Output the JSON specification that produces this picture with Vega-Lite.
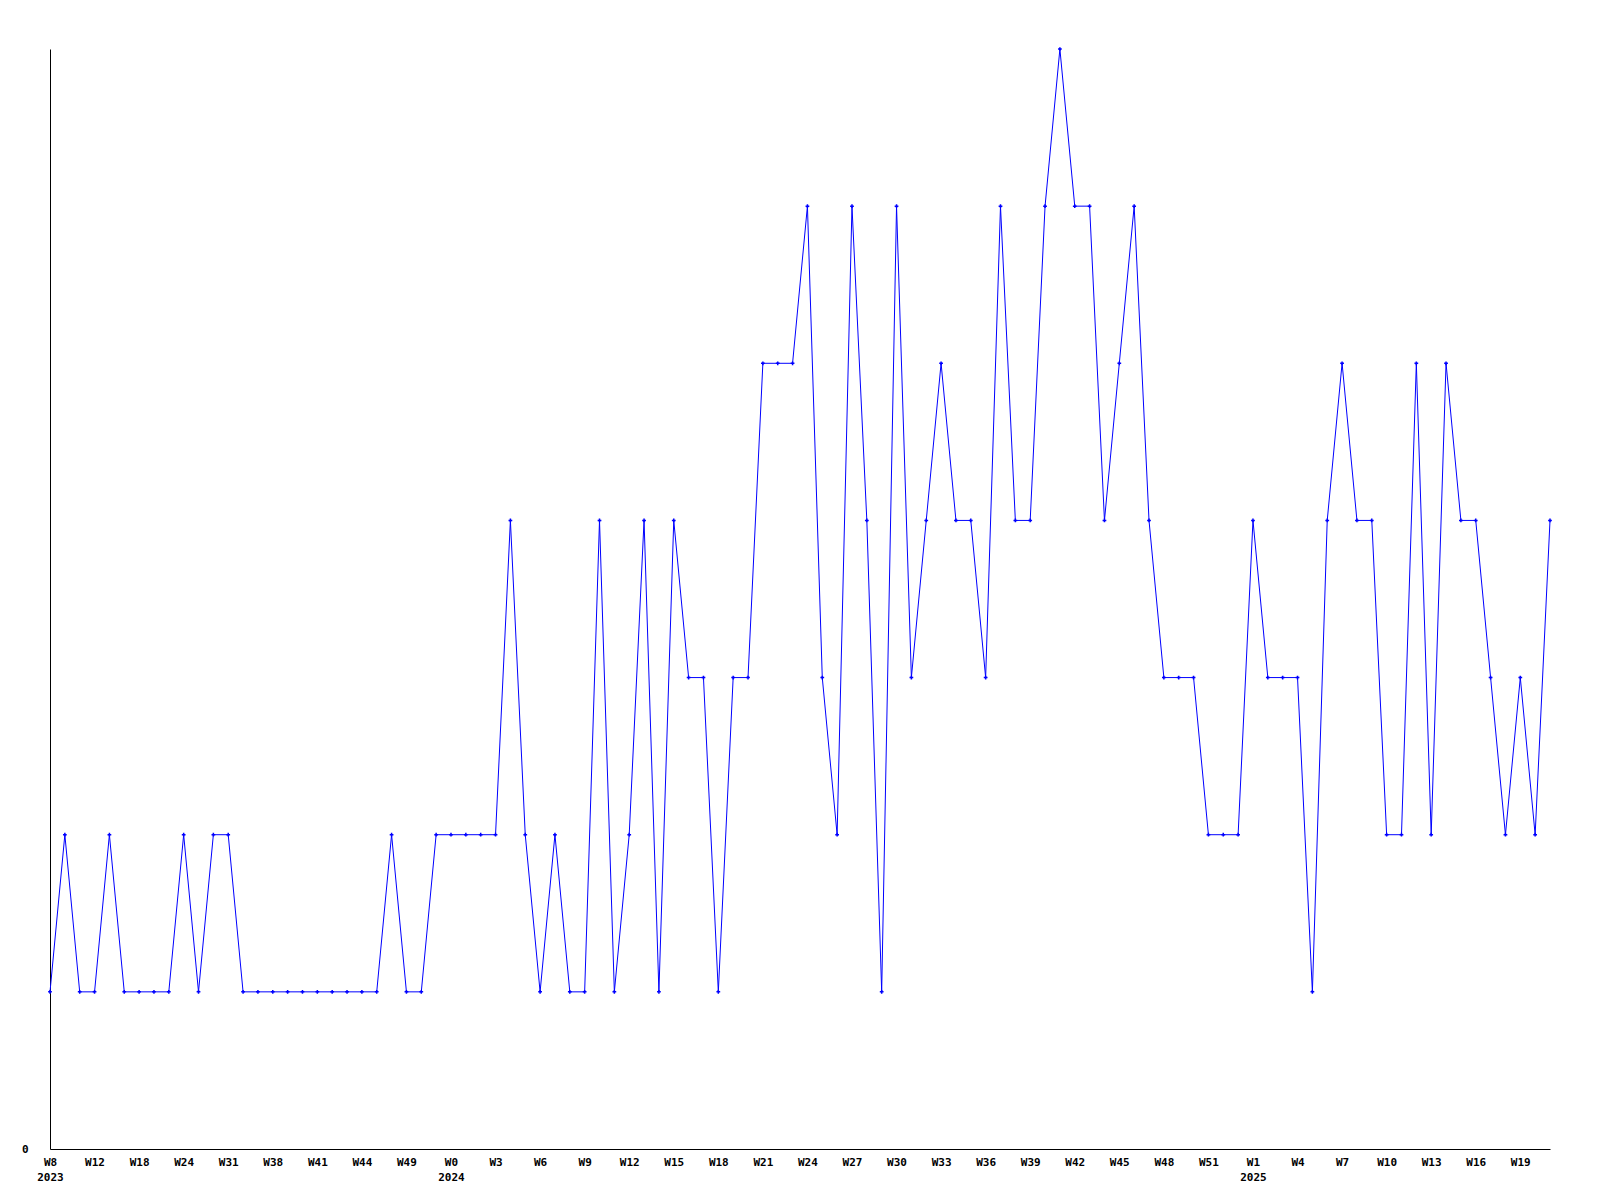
{
  "$schema": "https://vega.github.io/schema/vega-lite/v6.json",
  "width": 1500,
  "height": 1100,
  "autosize": {"type": "none"},
  "padding": {"left": 50, "top": 49, "right": 50, "bottom": 51},
  "background": "white",
  "config": {"view": {"stroke": null}},
  "data": {"values": [
    {"wk": "2023-W8", "v": 1}, {"wk": "2023-W9", "v": 2}, {"wk": "2023-W10", "v": 1}, {"wk": "2023-W12", "v": 1},
    {"wk": "2023-W14", "v": 2}, {"wk": "2023-W16", "v": 1}, {"wk": "2023-W18", "v": 1}, {"wk": "2023-W20", "v": 1},
    {"wk": "2023-W22", "v": 1}, {"wk": "2023-W24", "v": 2}, {"wk": "2023-W26", "v": 1}, {"wk": "2023-W28", "v": 2},
    {"wk": "2023-W31", "v": 2}, {"wk": "2023-W33", "v": 1}, {"wk": "2023-W36", "v": 1}, {"wk": "2023-W38", "v": 1},
    {"wk": "2023-W39", "v": 1}, {"wk": "2023-W40", "v": 1}, {"wk": "2023-W41", "v": 1}, {"wk": "2023-W42", "v": 1},
    {"wk": "2023-W43", "v": 1}, {"wk": "2023-W44", "v": 1}, {"wk": "2023-W46", "v": 1}, {"wk": "2023-W47", "v": 2},
    {"wk": "2023-W49", "v": 1}, {"wk": "2023-W50", "v": 1}, {"wk": "2023-W51", "v": 2},
    {"wk": "2024-W0", "v": 2}, {"wk": "2024-W1", "v": 2}, {"wk": "2024-W2", "v": 2}, {"wk": "2024-W3", "v": 2},
    {"wk": "2024-W4", "v": 4}, {"wk": "2024-W5", "v": 2}, {"wk": "2024-W6", "v": 1}, {"wk": "2024-W7", "v": 2},
    {"wk": "2024-W8", "v": 1}, {"wk": "2024-W9", "v": 1}, {"wk": "2024-W10", "v": 4}, {"wk": "2024-W11", "v": 1},
    {"wk": "2024-W12", "v": 2}, {"wk": "2024-W13", "v": 4}, {"wk": "2024-W14", "v": 1}, {"wk": "2024-W15", "v": 4},
    {"wk": "2024-W16", "v": 3}, {"wk": "2024-W17", "v": 3}, {"wk": "2024-W18", "v": 1}, {"wk": "2024-W19", "v": 3},
    {"wk": "2024-W20", "v": 3}, {"wk": "2024-W21", "v": 5}, {"wk": "2024-W22", "v": 5}, {"wk": "2024-W23", "v": 5},
    {"wk": "2024-W24", "v": 6}, {"wk": "2024-W25", "v": 3}, {"wk": "2024-W26", "v": 2}, {"wk": "2024-W27", "v": 6},
    {"wk": "2024-W28", "v": 4}, {"wk": "2024-W29", "v": 1}, {"wk": "2024-W30", "v": 6}, {"wk": "2024-W31", "v": 3},
    {"wk": "2024-W32", "v": 4}, {"wk": "2024-W33", "v": 5}, {"wk": "2024-W34", "v": 4}, {"wk": "2024-W35", "v": 4},
    {"wk": "2024-W36", "v": 3}, {"wk": "2024-W37", "v": 6}, {"wk": "2024-W38", "v": 4}, {"wk": "2024-W39", "v": 4},
    {"wk": "2024-W40", "v": 6}, {"wk": "2024-W41", "v": 7}, {"wk": "2024-W42", "v": 6}, {"wk": "2024-W43", "v": 6},
    {"wk": "2024-W44", "v": 4}, {"wk": "2024-W45", "v": 5}, {"wk": "2024-W46", "v": 6}, {"wk": "2024-W47", "v": 4},
    {"wk": "2024-W48", "v": 3}, {"wk": "2024-W49", "v": 3}, {"wk": "2024-W50", "v": 3}, {"wk": "2024-W51", "v": 2},
    {"wk": "2024-W52", "v": 2},
    {"wk": "2025-W0", "v": 2}, {"wk": "2025-W1", "v": 4}, {"wk": "2025-W2", "v": 3}, {"wk": "2025-W3", "v": 3},
    {"wk": "2025-W4", "v": 3}, {"wk": "2025-W5", "v": 1}, {"wk": "2025-W6", "v": 4}, {"wk": "2025-W7", "v": 5},
    {"wk": "2025-W8", "v": 4}, {"wk": "2025-W9", "v": 4}, {"wk": "2025-W10", "v": 2}, {"wk": "2025-W11", "v": 2},
    {"wk": "2025-W12", "v": 5}, {"wk": "2025-W13", "v": 2}, {"wk": "2025-W14", "v": 5}, {"wk": "2025-W15", "v": 4},
    {"wk": "2025-W16", "v": 4}, {"wk": "2025-W17", "v": 3}, {"wk": "2025-W18", "v": 2}, {"wk": "2025-W19", "v": 3},
    {"wk": "2025-W20", "v": 2}, {"wk": "2025-W21", "v": 4}
  ]},
  "mark": {"type": "line", "color": "#0000ff", "strokeWidth": 1, "point": {"shape": "cross", "size": 14, "filled": true, "color": "#0000ff"}},
  "encoding": {
    "x": {
      "field": "wk", "type": "ordinal", "sort": null,
      "scale": {"type": "point", "padding": 0},
      "axis": {
        "title": null, "ticks": false, "grid": false,
        "domainColor": "#000000", "domainWidth": 1,
        "values": ["2023-W8","2023-W12","2023-W18","2023-W24","2023-W31","2023-W38","2023-W41","2023-W44","2023-W49",
                   "2024-W0","2024-W3","2024-W6","2024-W9","2024-W12","2024-W15","2024-W18","2024-W21","2024-W24","2024-W27","2024-W30","2024-W33","2024-W36","2024-W39","2024-W42","2024-W45","2024-W48","2024-W51",
                   "2025-W1","2025-W4","2025-W7","2025-W10","2025-W13","2025-W16","2025-W19"],
        "labelExpr": "indexof(['2023-W8','2024-W0','2025-W1'], datum.value) >= 0 ? [split(datum.value,'-')[1], split(datum.value,'-')[0]] : split(datum.value,'-')[1]",
        "labelAngle": 0, "labelAlign": "center", "labelBaseline": "top", "labelPadding": 7,
        "labelOverlap": false, "labelFlush": false,
        "labelFont": "DejaVu Sans Mono", "labelFontWeight": "bold", "labelFontSize": 11,
        "labelColor": "#000000", "labelLineHeight": 15
      }
    },
    "y": {
      "field": "v", "type": "quantitative",
      "scale": {"domain": [0, 7], "nice": false, "zero": true},
      "axis": {
        "title": null, "ticks": false, "grid": false, "values": [0],
        "domainColor": "#000000", "domainWidth": 1,
        "labelPadding": 22, "labelFont": "DejaVu Sans Mono", "labelFontWeight": "bold", "labelFontSize": 11,
        "labelColor": "#000000", "labelBaseline": "middle"
      }
    }
  }
}
